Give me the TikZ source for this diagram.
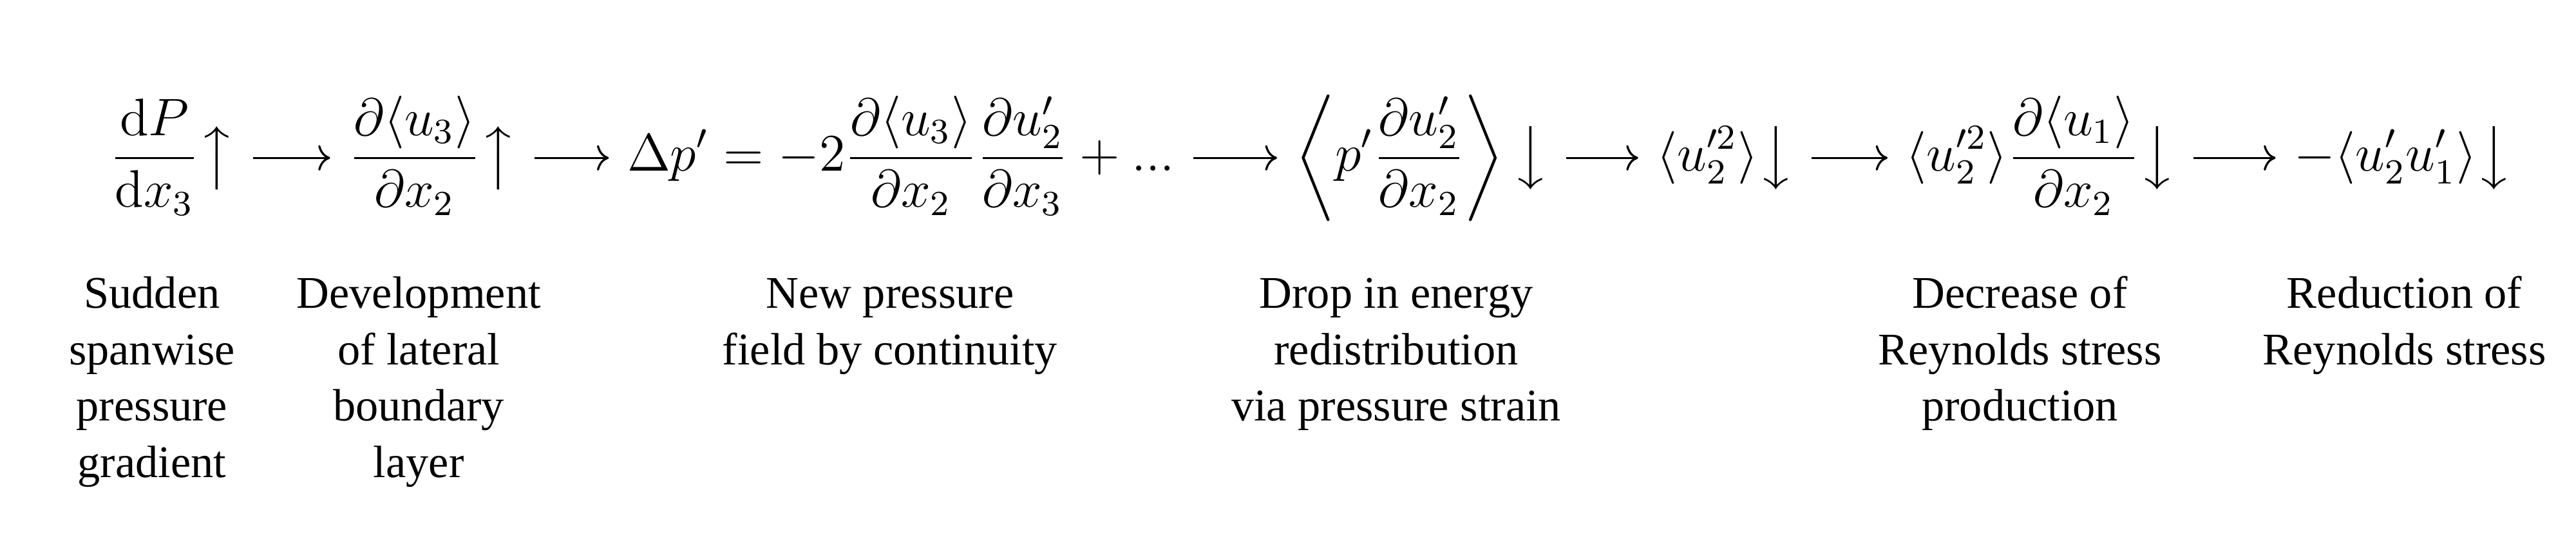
\RequirePackage{fix-cm}
\documentclass[tikz,border=0pt]{standalone}
\usepackage{exscale}
\usepackage[no-math]{fontspec}
\setmainfont{Liberation Serif}
\usetikzlibrary{arrows.meta}
\newcommand\myarr[1]{{\hbox{$\left#1\vcenter to13pt{}\right.\nulldelimiterspace=0pt\relax$}}}
\tikzset{
  term/.style={inner sep=0pt, outer sep=0pt, anchor=base west, font=\fontsize{12}{14.5}\selectfont},
  lbl/.style={inner sep=0pt, anchor=base, font=\fontsize{10.3}{12.8}\selectfont},
  conn/.style={line width=0.48pt, shorten <=4.2pt, shorten >=4.2pt,
    -{Computer Modern Rightarrow[length=2.7pt,width=5.8pt]}},
}
\begin{document}
\begin{tikzpicture}[x=1pt,y=1pt]
\useasboundingbox (0,0) rectangle (585.6,-122.1);
\def\bl{-38.9}
\node[term] (t1) at (24.95,\bl) {$\displaystyle \frac{\mathrm{d}P}{\mathrm{d}x_3}\myarr\uparrow$};
\node[term] (t2) at (79.25,\bl) {$\displaystyle \frac{\partial\langle u_3\rangle}{\partial x_2}\myarr\uparrow$};
\node[term] (t3) at (142.6,\bl) {$\displaystyle \Delta p' = -2\frac{\partial\langle u_3\rangle}{\partial x_2}\frac{\partial u_2'}{\partial x_3} + ...$};
\node[term] (t4) at (294.5,\bl) {$\displaystyle \left\langle p'\frac{\partial u_2'}{\partial x_2}\right\rangle\myarr\downarrow$};
\node[term] (t5) at (376.6,\bl) {$\displaystyle \langle u_2'^2\rangle\myarr\downarrow$};
\node[term] (t6) at (433.3,\bl) {$\displaystyle \langle u_2'^2\rangle\frac{\partial\langle u_1\rangle}{\partial x_2}\myarr\downarrow$};
\node[term] (t7) at (521.5,\bl) {$\displaystyle {-}\langle u_2'u_1'\rangle\myarr\downarrow$};
\draw[conn] ([yshift=3pt]t1.base east) -- ([yshift=3pt]t2.base west);
\draw[conn] ([yshift=3pt]t2.base east) -- ([yshift=3pt]t3.base west);
\draw[conn] ([yshift=3pt]t3.base east) -- ([yshift=3pt]t4.base west);
\draw[conn] ([yshift=3pt]t4.base east) -- ([yshift=3pt]t5.base west);
\draw[conn] ([yshift=3pt]t5.base east) -- ([yshift=3pt]t6.base west);
\draw[conn] ([yshift=3pt]t6.base east) -- ([yshift=3pt]t7.base west);
\def\tb{-70.1}
\node[lbl] (l1) at (34.55,\tb) {\begin{tabular}[t]{@{}c@{}}Sudden\\spanwise\\pressure\\gradient\end{tabular}};
\node[lbl] (l2) at (95.2,\tb) {\begin{tabular}[t]{@{}c@{}}Development\\of lateral\\boundary\\layer\end{tabular}};
\node[lbl] (l3) at (202.3,\tb) {\begin{tabular}[t]{@{}c@{}}New pressure\\field by continuity\end{tabular}};
\node[lbl] (l4) at (317.4,\tb) {\begin{tabular}[t]{@{}c@{}}Drop in energy\\redistribution\\via pressure strain\end{tabular}};
\node[lbl] (l5) at (459.2,\tb) {\begin{tabular}[t]{@{}c@{}}Decrease of\\Reynolds stress\\production\end{tabular}};
\node[lbl] (l6) at (546.6,\tb) {\begin{tabular}[t]{@{}c@{}}Reduction of\\Reynolds stress\end{tabular}};
\end{tikzpicture}
\end{document}
